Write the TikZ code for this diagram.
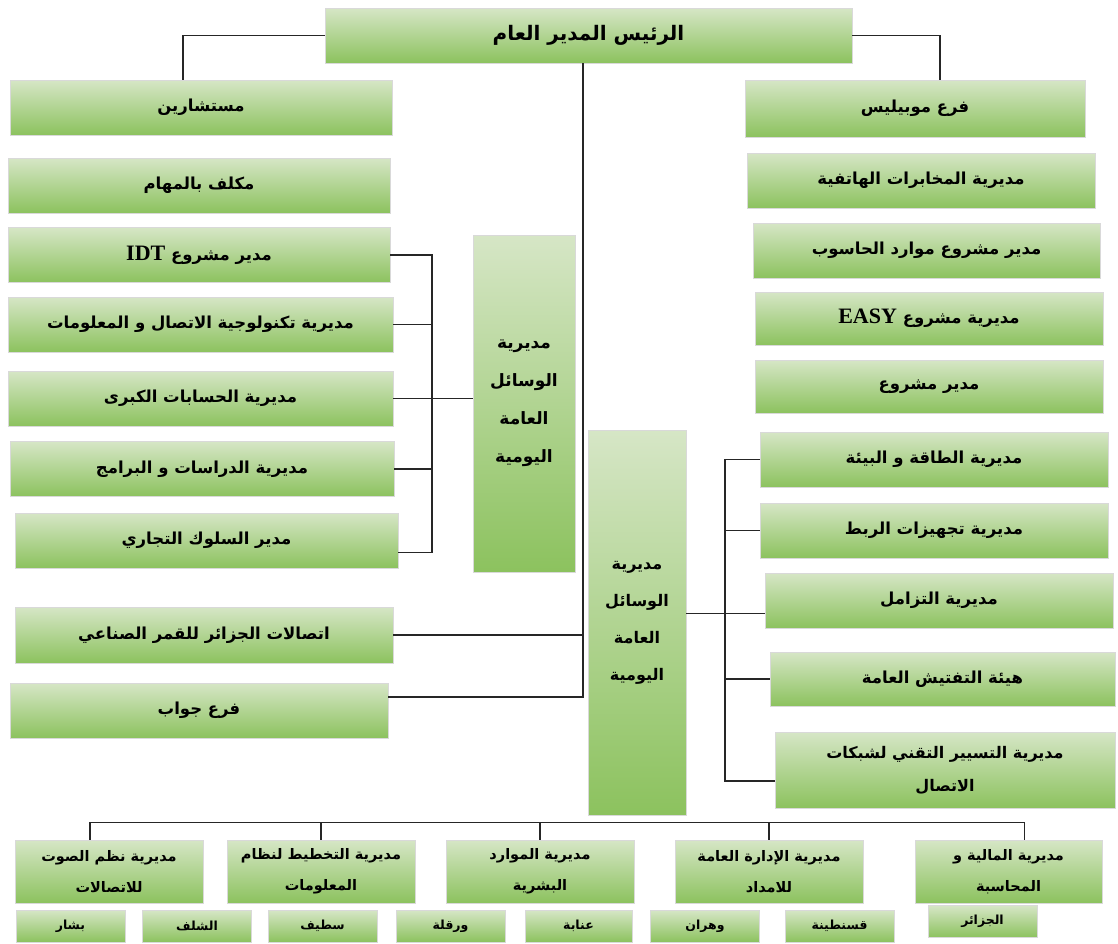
\documentclass[tikz,border=0pt]{standalone}
\usepackage{fontspec}
\newfontfamily\arabicfont[Script=Arabic]{DejaVu Sans}
\newfontfamily\latinserif{Liberation Serif}
\TeXXeTstate=1
\newcommand{\txtar}[1]{{\arabicfont\bfseries\beginR #1\endR}}
\newcommand{\latingras}[1]{\beginL{\latinserif\bfseries\fontsize{22}{24}\selectfont #1}\endL}
\definecolor{vertclair}{HTML}{D6E6C6}
\definecolor{vertfonce}{HTML}{8CC25E}

\begin{document}
\begin{tikzpicture}[x=1pt,y=-1pt,
	boite/.style={draw=black!15, top color=vertclair, bottom color=vertfonce, inner sep=0pt, align=center, font={\fontsize{16.5}{30}\selectfont}},
	taille/.style 2 args={minimum width=#1pt, minimum height=#2pt},
	basse/.style={boite, taille={188}{63}, font={\fontsize{14.5}{31}\selectfont}},
	petite/.style={boite, taille={109}{32}, font={\fontsize{12.5}{14}\selectfont}},
	trait/.style={line width=1.2pt, black!85}]
	\useasboundingbox (0,0) rectangle (1118,943);
	% le directeur general
	\node[boite, taille={527}{55}, font={\fontsize{20}{22}\selectfont}] (pdg) at (588.5,35.5) {\txtar{الرئيس المدير العام}};
	% colonne de gauche
	\node[boite, taille={382}{55}] (conseil) at (201,107.5) {\txtar{مستشارين}};
	\node[boite, taille={382}{55}] (charge) at (199,185.5) {\txtar{مكلف بالمهام}};
	\node[boite, taille={382}{55}] (idt) at (199,255) {\txtar{مدير مشروع \latingras{IDT}}};
	\node[boite, taille={385}{55}] (tic) at (200.5,324.5) {\txtar{مديرية تكنولوجية الاتصال و المعلومات}};
	\node[boite, taille={385}{55}] (hisabat) at (200.5,398.5) {\txtar{مديرية الحسابات الكبرى}};
	\node[boite, taille={384}{55}] (dirasat) at (202,469) {\txtar{مديرية الدراسات و البرامج}};
	\node[boite, taille={383}{55}] (suluk) at (206.5,540.5) {\txtar{مدير السلوك التجاري}};
	\node[boite, taille={378}{56}] (satellite) at (204,635) {\txtar{اتصالات الجزائر للقمر الصناعي}};
	\node[boite, taille={378}{55}] (jawab) at (199,710.5) {\txtar{فرع جواب}};
	% les deux directions des moyens
	\node[boite, taille={102}{337}, font={\fontsize{17}{38}\selectfont}] (moyens1) at (524,403.5) {\txtar{مديرية}\\\txtar{الوسائل}\\\txtar{العامة}\\\txtar{اليومية}};
	\node[boite, taille={98}{385}, font={\fontsize{16}{37}\selectfont}] (moyens2) at (637,622.5) {\txtar{مديرية}\\\txtar{الوسائل}\\\txtar{العامة}\\\txtar{اليومية}};
	% colonne de droite
	\node[boite, taille={340}{57}] (mobilis) at (915,108.5) {\txtar{فرع موبيليس}};
	\node[boite, taille={348}{55}] (mukhabarat) at (921,180.5) {\txtar{مديرية المخابرات الهاتفية}};
	\node[boite, taille={347}{55}] (hasub) at (926.5,250.5) {\txtar{مدير مشروع موارد الحاسوب}};
	\node[boite, taille={348}{53}] (easy) at (929,318.5) {\txtar{مديرية مشروع \latingras{EASY}}};
	\node[boite, taille={348}{53}] (machrou) at (929,386.5) {\txtar{مدير مشروع}};
	\node[boite, taille={348}{55}] (taqa) at (934,459.5) {\txtar{مديرية الطاقة و البيئة}};
	\node[boite, taille={348}{55}] (tajhizat) at (934,530.5) {\txtar{مديرية تجهيزات الربط}};
	\node[boite, taille={348}{55}] (tazamul) at (939,600.5) {\txtar{مديرية التزامل}};
	\node[boite, taille={345}{54}] (taftich) at (942.5,679) {\txtar{هيئة التفتيش العامة}};
	\node[boite, taille={340}{76}, font={\fontsize{16}{33}\selectfont}] (tasyir) at (945,770) {\txtar{مديرية التسيير التقني لشبكات}\\\txtar{الاتصال}};
	% les directions du bas
	\node[basse] (sawt) at (109,871.5) {\txtar{مديرية نظم الصوت}\\\txtar{للاتصالات}};
	\node[basse] (takhtit) at (321,871.5) {\txtar{مديرية التخطيط لنظام}\\\txtar{المعلومات}};
	\node[basse] (mawarid) at (540,871.5) {\txtar{مديرية الموارد}\\\txtar{البشرية}};
	\node[basse] (idara) at (769,871.5) {\txtar{مديرية الإدارة العامة}\\\txtar{للامداد}};
	\node[basse, taille={187}{63}] (maliya) at (1008.5,871.5) {\txtar{مديرية المالية و}\\\txtar{المحاسبة}};
	% les wilayas
	\node[petite] (bechar) at (70.5,926) {\txtar{بشار}};
	\node[petite] (chlef) at (197,926) {\txtar{الشلف}};
	\node[petite] (setif) at (322.5,926) {\txtar{سطيف}};
	\node[petite] (ouargla) at (450.5,926) {\txtar{ورقلة}};
	\node[petite, taille={107}{32}] (annaba) at (578.5,926) {\txtar{عنابة}};
	\node[petite] (oran) at (705,926) {\txtar{وهران}};
	\node[petite] (constantine) at (839.5,926) {\txtar{قسنطينة}};
	\node[petite] (alger) at (982.5,921.5) {\txtar{الجزائر}};
	% les liaisons du haut
	\draw[trait] (pdg.west) -| ([xshift=-18pt]conseil.north);
	\draw[trait] (pdg.east) -| ([xshift=25pt]mobilis.north);
	\coordinate (tronc) at (583,697);
	\draw[trait] (pdg.south -| tronc) -- (tronc) -- ([yshift=13.5pt]jawab.east);
	\draw[trait] (satellite.east) -- (satellite.east -| tronc);
	% accolade de gauche
	\coordinate (brasG) at (432,0);
	\coordinate (solb) at ([yshift=-12pt]suluk.east);
	\draw[trait] (idt.east) -| (brasG |- solb) -- (solb);
	\foreach \n in {tic,hisabat,dirasat}
		\draw[trait] (\n.east) -- (brasG |- \n.east);
	\draw[trait] (brasG |- hisabat.east) -- (hisabat.east -| moyens1.west);
	% accolade de droite
	\coordinate (brasD) at (725,0);
	\coordinate (tasb) at ([yshift=-11pt]tasyir.west);
	\coordinate (tazb) at ([yshift=-13pt]tazamul.west);
	\draw[trait] (taqa.west) -| (brasD |- tasb) -- (tasb);
	\foreach \n in {tajhizat,taftich}
		\draw[trait] (\n.west) -- (brasD |- \n.west);
	\draw[trait] (tazb -| moyens2.east) -- (tazb);
	% la ligne du bas
	\draw[trait] ([xshift=-19pt]sawt.north) -- ++(0,-17) -| ([xshift=16pt]maliya.north);
	\foreach \n in {takhtit,mawarid,idara}
		\draw[trait] (\n.north) -- ++(0,-17);
\end{tikzpicture}
\end{document}
